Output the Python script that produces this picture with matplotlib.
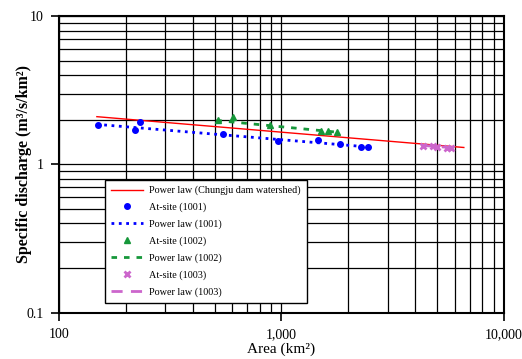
import numpy as np
import matplotlib
matplotlib.use("Agg")
import matplotlib.pyplot as plt
from matplotlib.ticker import FixedLocator, FixedFormatter, LogLocator, NullFormatter

plt.rcParams['font.family'] = ['Liberation Serif', 'DejaVu Serif']

# at-site data
area_1001 = [149, 220, 232, 547, 969, 1463, 1832, 2277, 2455]
q_1001 = [1.84, 1.71, 1.92, 1.61, 1.44, 1.47, 1.38, 1.32, 1.31]

area_1002 = [516, 605, 887, 1500, 1618, 1771]
q_1002 = [2.00, 2.09, 1.84, 1.67, 1.67, 1.66]

area_1003 = [4315, 4812, 4985, 5564, 5757]
q_1003 = [1.34, 1.34, 1.32, 1.30, 1.30]

# power-law fits q = a * A^b, with the area range each line covers
fit_all = (3.94, -0.126, 148, 6600)
fit_1001 = (3.48, -0.125, 148, 2480)
fit_1002 = (4.92, -0.146, 510, 1780)
fit_1003 = (3.37, -0.110, 4300, 5800)


def power_line(fit):
    a, b, lo, hi = fit
    x = np.array([lo, hi], dtype=float)
    return x, a * x ** b


fig = plt.figure(figsize=(5.22, 3.59), dpi=100)
ax = fig.add_axes([0.113, 0.129, 0.8525, 0.826])
ax.set_xscale('log')
ax.set_yscale('log')
ax.set_xlim(100, 10000)
ax.set_ylim(0.1, 10)

x, y = power_line(fit_all)
ax.plot(x, y, color='red', lw=1.0, label='Power law (Chungju dam watershed)', zorder=3)
ax.plot(area_1001, q_1001, 'o', color='blue', ms=4, label='At-site (1001)', zorder=4)
x, y = power_line(fit_1001)
ax.plot(x, y, ':', color='blue', lw=2.0, label='Power law (1001)', zorder=3)
ax.plot(area_1002, q_1002, '^', color='#16973a', ms=4, label='At-site (1002)', zorder=4)
x, y = power_line(fit_1002)
ax.plot(x, y, color='#16973a', lw=2.0, ls=(0, (2, 2.5)), label='Power law (1002)', zorder=3)
ax.plot(area_1003, q_1003, 'x', color='#cc66cc', ms=4, mew=2, label='At-site (1003)', zorder=4)
x, y = power_line(fit_1003)
ax.plot(x, y, color='#cc66cc', lw=2.0, ls=(0, (4, 3)), label='Power law (1003)', zorder=3)

# grid on major and minor
ax.xaxis.set_minor_locator(LogLocator(base=10, subs=np.arange(2, 10)))
ax.yaxis.set_minor_locator(LogLocator(base=10, subs=np.arange(2, 10)))
ax.xaxis.set_minor_formatter(NullFormatter())
ax.yaxis.set_minor_formatter(NullFormatter())
ax.grid(True, which='both', color='black', lw=0.9)
ax.set_axisbelow(True)

ax.xaxis.set_major_locator(FixedLocator([100, 1000, 10000]))
ax.xaxis.set_major_formatter(FixedFormatter(['100', '1,000', '10,000']))
ax.yaxis.set_major_locator(FixedLocator([0.1, 1, 10]))
ax.yaxis.set_major_formatter(FixedFormatter(['0.1', '1', '10']))
ax.tick_params(which='major', direction='out', length=6, width=1.2, labelsize=10, pad=5)
ax.tick_params(which='minor', length=0)
for sp in ax.spines.values():
    sp.set_linewidth(1.5)

ax.set_xlabel('Area (km²)', fontsize=11, labelpad=1)
ax.set_ylabel('Specific discharge (m³/s/km²)', fontsize=11.5, fontweight='bold', labelpad=-4)

leg = ax.legend(loc='lower left', bbox_to_anchor=(0.103, 0.033), fontsize=7.3, frameon=True,
                fancybox=False, edgecolor='black', framealpha=1, handlelength=3.2,
                labelspacing=0.72, borderpad=0.6, handletextpad=0.6, borderaxespad=0)
leg.get_frame().set_linewidth(1.0)

fig.savefig('out.png', dpi=100)
